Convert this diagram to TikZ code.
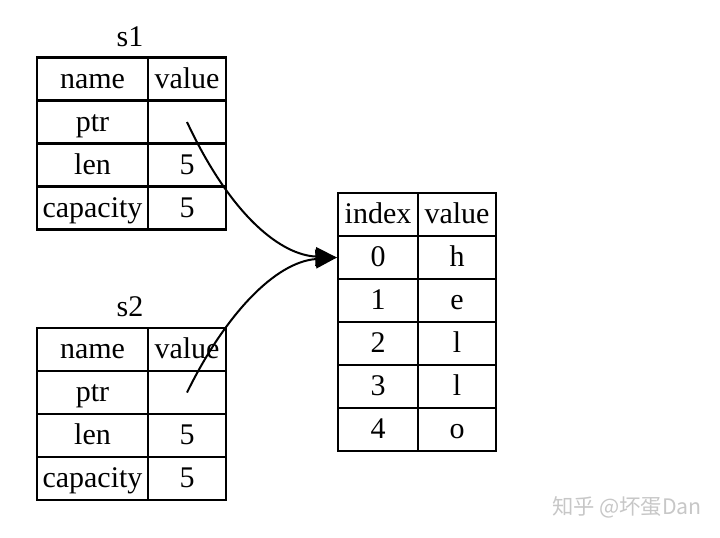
\documentclass[tikz,border=0pt]{standalone}
\usepackage{fontspec}
\setmainfont{Liberation Serif}
\newfontfamily\cjkfont{Noto Sans CJK SC}
\usetikzlibrary{arrows.meta}

\tikzset{every picture/.style={line width=0.75pt}}
\tikzset{
  cell/.style={draw, line width=1.6pt, minimum height=32.25pt, inner sep=0pt,
    text height=17pt, text depth=3pt, font=\fontsize{22.5}{26}\selectfont},
  namecol/.style={cell, minimum width=83.25pt},
  valcol/.style={cell, minimum width=58.5pt},
  idxcol/.style={cell, minimum width=60pt},
  ptrline/.style={line width=1.5pt, -{Triangle[length=16pt,width=14pt]}},
}

\begin{document}
\begin{tikzpicture}[x=0.75pt,y=0.75pt,yscale=-1,xscale=1]
    \useasboundingbox (0,0) rectangle (720,537);
    % Text Node
    \node (s1) [font=\fontsize{22.5}{26}\selectfont] at (130,37) {s1};
    % Table s1
    \node (s1name) [namecol] at (92.5,79) {name};
    \node (s1value) [valcol] at (187,79) {value};
    \node (s1ptr) [namecol] at (92.5,122) {ptr};
    \node (s1ptrv) [valcol] at (187,122) {};
    \node (s1len) [namecol] at (92.5,165) {len};
    \node (s1lenv) [valcol] at (187,165) {5};
    \node (s1cap) [namecol] at (92.5,208) {capacity};
    \node (s1capv) [valcol] at (187,208) {5};
    % Text Node
    \node (s2) [font=\fontsize{22.5}{26}\selectfont] at (130,307) {s2};
    % Table s2
    \node (s2name) [namecol] at (92.5,349.5) {name};
    \node (s2value) [valcol] at (187,349.5) {value};
    \node (s2ptr) [namecol] at (92.5,392.5) {ptr};
    \node (s2ptrv) [valcol] at (187,392.5) {};
    \node (s2len) [namecol] at (92.5,435.5) {len};
    \node (s2lenv) [valcol] at (187,435.5) {5};
    \node (s2cap) [namecol] at (92.5,478.5) {capacity};
    \node (s2capv) [valcol] at (187,478.5) {5};
    % Table heap
    \node (hindex) [idxcol] at (378,214.5) {index};
    \node (hvalue) [valcol] at (457,214.5) {value};
    \node (h0) [idxcol] at (378,257.5) {0};
    \node (h0v) [valcol] at (457,257.5) {h};
    \node (h1) [idxcol] at (378,300.5) {1};
    \node (h1v) [valcol] at (457,300.5) {e};
    \node (h2) [idxcol] at (378,343.5) {2};
    \node (h2v) [valcol] at (457,343.5) {l};
    \node (h3) [idxcol] at (378,386.5) {3};
    \node (h3v) [valcol] at (457,386.5) {l};
    \node (h4) [idxcol] at (378,429.5) {4};
    \node (h4v) [valcol] at (457,429.5) {o};
    % Curves
    \draw [ptrline] (s1ptrv.center) .. controls (232,218) and (282,255) .. (h0.west);
    \draw [ptrline] (s2ptrv.center) .. controls (225,315) and (275,262) .. (h0.west);
    % Text Node
    \node (mark) [text=black!22, font=\cjkfont\fontsize{16}{18}\selectfont] at (627,507) {知乎 @坏蛋Dan};
\end{tikzpicture}
\end{document}
